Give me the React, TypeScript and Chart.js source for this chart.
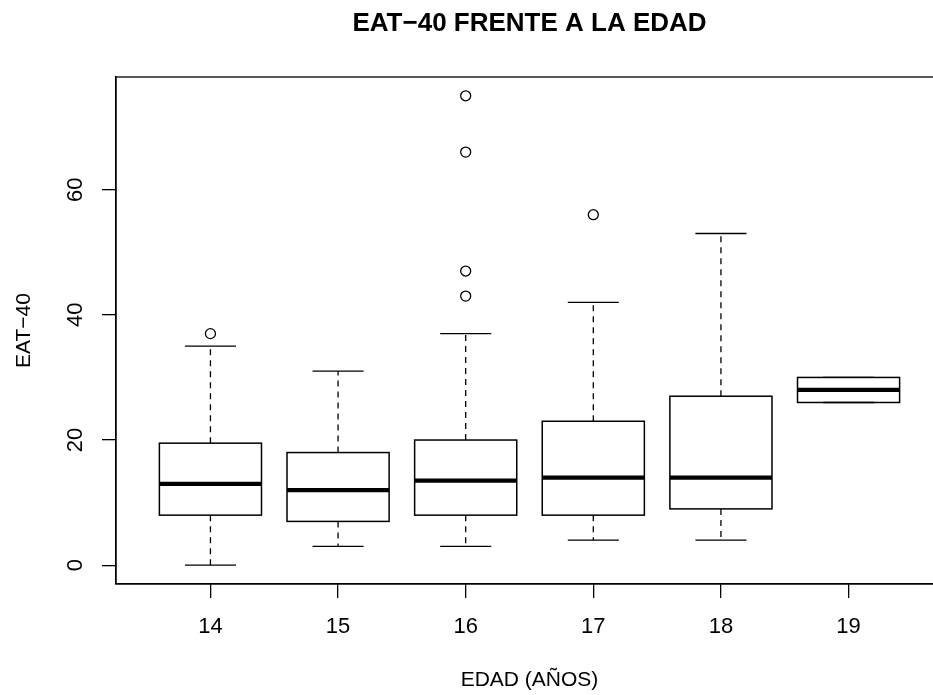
import React, { useEffect, useRef } from "react";
import { Chart, registerables } from "chart.js";

Chart.register(...registerables);

// Age groups (years)
const ages = [14, 15, 16, 17, 18, 19];
// Five-number summaries of EAT-40 per age
const whiskerLow = [0, 3, 3, 4, 4, 26];
const q1 = [8, 7, 8, 8, 9, 26];
const median = [13, 12, 13.5, 14, 14, 28];
const q3 = [19.5, 18, 20, 23, 27, 30];
const whiskerHigh = [35, 31, 37, 42, 53, 30];
// Outlying observations
const outlierAges = [14, 16, 16, 16, 16, 17];
const outlierValues = [37, 43, 47, 66, 75, 56];

const yTicks = [0, 20, 40, 60];

const TITLE = "EAT\u221240 FRENTE A LA EDAD";
const X_TITLE = "EDAD (AÑOS)";
const Y_TITLE = "EAT\u221240";

const FONT = '"Liberation Sans", Arial, Helvetica, sans-serif';

const BOX_WIDTH = 0.8;
const CAP_WIDTH = 0.4;

const boxPlugin = {
  id: "boxes",
  afterDraw(chart: any) {
    const { ctx, chartArea } = chart;
    const xs = chart.scales.x;
    const ys = chart.scales.y;
    ctx.save();
    ctx.strokeStyle = "#000";
    ctx.fillStyle = "#000";

    // plot frame
    ctx.lineWidth = 1.3;
    ctx.strokeRect(chartArea.left, chartArea.top, chartArea.right - chartArea.left, chartArea.bottom - chartArea.top);

    ages.forEach((age, i) => {
      const xc = xs.getPixelForValue(age);
      const xl = xs.getPixelForValue(age - BOX_WIDTH / 2);
      const xr = xs.getPixelForValue(age + BOX_WIDTH / 2);
      const cl = xs.getPixelForValue(age - CAP_WIDTH / 2);
      const cr = xs.getPixelForValue(age + CAP_WIDTH / 2);
      const yLo = ys.getPixelForValue(whiskerLow[i]);
      const yQ1 = ys.getPixelForValue(q1[i]);
      const yMed = ys.getPixelForValue(median[i]);
      const yQ3 = ys.getPixelForValue(q3[i]);
      const yHi = ys.getPixelForValue(whiskerHigh[i]);

      // whiskers
      ctx.lineWidth = 1.3;
      ctx.setLineDash([6, 5]);
      ctx.beginPath();
      ctx.moveTo(xc, yQ1);
      ctx.lineTo(xc, yLo);
      ctx.moveTo(xc, yQ3);
      ctx.lineTo(xc, yHi);
      ctx.stroke();
      ctx.setLineDash([]);

      // caps
      ctx.beginPath();
      ctx.moveTo(cl, yLo);
      ctx.lineTo(cr, yLo);
      ctx.moveTo(cl, yHi);
      ctx.lineTo(cr, yHi);
      ctx.stroke();

      // box
      ctx.lineWidth = 1.5;
      ctx.strokeRect(xl, yQ3, xr - xl, yQ1 - yQ3);

      // median
      ctx.lineWidth = 4.2;
      ctx.beginPath();
      ctx.moveTo(xl, yMed);
      ctx.lineTo(xr, yMed);
      ctx.stroke();
    });

    // title
    ctx.textAlign = "center";
    ctx.textBaseline = "alphabetic";
    const cx = (chartArea.left + chartArea.right) / 2;
    ctx.font = `bold 26px ${FONT}`;
    ctx.fillText(TITLE, cx, 31);

    // x tick labels
    ctx.font = `22px ${FONT}`;
    ages.forEach((age) => {
      ctx.fillText(String(age), xs.getPixelForValue(age), 633);
    });

    // y tick labels (rotated, reading upward)
    yTicks.forEach((v) => {
      ctx.save();
      ctx.translate(82, ys.getPixelForValue(v));
      ctx.rotate(-Math.PI / 2);
      ctx.fillText(String(v), 0, 0);
      ctx.restore();
    });

    // axis titles
    ctx.font = `21px ${FONT}`;
    ctx.fillText(X_TITLE, cx, 686);

    ctx.save();
    ctx.translate(30, (chartArea.top + chartArea.bottom) / 2);
    ctx.rotate(-Math.PI / 2);
    ctx.fillText(Y_TITLE, 0, 0);
    ctx.restore();

    ctx.restore();
  },
};

export default function App() {
  const canvasRef = useRef<HTMLCanvasElement | null>(null);

  useEffect(() => {
    if (!canvasRef.current) return;
    const chart = new Chart(canvasRef.current, {
      type: "scatter",
      data: {
        datasets: [
          {
            label: "outliers",
            data: outlierAges.map((a, i) => ({ x: a, y: outlierValues[i] })),
            pointStyle: "circle",
            pointRadius: 5,
            pointBorderWidth: 1.3,
            pointBackgroundColor: "rgba(0,0,0,0)",
            pointBorderColor: "#000",
            showLine: false,
          },
        ],
      },
      options: {
        responsive: false,
        animation: false,
        devicePixelRatio: 1,
        layout: { padding: { top: 77, right: 17, left: 0, bottom: 0 } },
        plugins: {
          legend: { display: false },
          tooltip: { enabled: false },
          title: { display: false },
        },
        scales: {
          x: {
            type: "linear",
            min: 13.26,
            max: 19.74,
            afterBuildTicks: (scale: any) => {
              scale.ticks = ages.map((v) => ({ value: v }));
            },
            afterFit: (scale: any) => {
              scale.height = 111;
            },
            ticks: { display: false },
            grid: {
              drawOnChartArea: false,
              drawTicks: true,
              tickLength: 14,
              color: "#000",
              lineWidth: 1.3,
            },
            border: { display: true, color: "#000", width: 1.3 },
          },
          y: {
            type: "linear",
            min: -3,
            max: 78,
            afterBuildTicks: (scale: any) => {
              scale.ticks = yTicks.map((v) => ({ value: v }));
            },
            afterFit: (scale: any) => {
              scale.width = 116;
            },
            ticks: { display: false },
            grid: {
              drawOnChartArea: false,
              drawTicks: true,
              tickLength: 14,
              color: "#000",
              lineWidth: 1.3,
            },
            border: { display: true, color: "#000", width: 1.3 },
          },
        },
      },
      plugins: [boxPlugin],
    });
    return () => chart.destroy();
  }, []);

  return (
    <div
      style={{
        position: "fixed",
        left: 0,
        top: 0,
        width: 933,
        height: 695,
        overflow: "hidden",
        background: "#fff",
      }}
    >
      <canvas ref={canvasRef} width={960} height={695} style={{ display: "block" }} />
    </div>
  );
}
